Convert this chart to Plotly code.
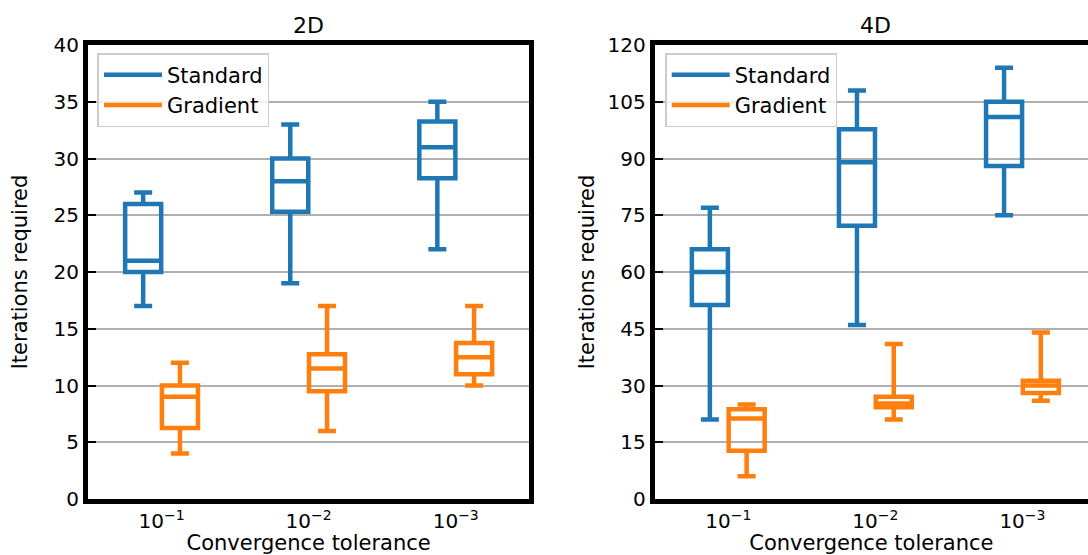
import plotly.graph_objects as go

# ---------------- data ----------------
categories = [1, 2, 3]
tick_labels = ["10<sup>\u22121</sup>", "10<sup>\u22122</sup>", "10<sup>\u22123</sup>"]

# 2D
std2_low = [17, 19, 22]
std2_q1 = [20, 25.3, 28.25]
std2_med = [21, 28, 31]
std2_q3 = [26, 30, 33.25]
std2_high = [27, 33, 35]

grad2_low = [4, 6, 10]
grad2_q1 = [6.25, 9.5, 11]
grad2_med = [9, 11.5, 12.5]
grad2_q3 = [10, 12.75, 13.75]
grad2_high = [12, 17, 17]

# 4D
std4_low = [21, 46, 75]
std4_q1 = [51.25, 72.25, 88]
std4_med = [60, 89, 101]
std4_q3 = [66, 97.75, 105]
std4_high = [77, 108, 114]

grad4_low = [6, 21, 26]
grad4_q1 = [12.75, 24.25, 28]
grad4_med = [21.25, 25.25, 30]
grad4_q3 = [23.75, 27, 31.25]
grad4_high = [25, 41, 44]

BLUE = "#1f77b4"
ORANGE = "#ff7f0e"
FONT = "DejaVu Sans"

OFFSET = 0.125
BOXW = 0.245

fig = go.Figure()


def add_box(xaxis, yaxis, pos, low, q1, med, q3, high, color):
    fig.add_trace(go.Box(
        x=pos, q1=q1, median=med, q3=q3, lowerfence=low, upperfence=high,
        orientation="v", width=BOXW, whiskerwidth=0.5, boxpoints=False,
        line=dict(color=color, width=4.5), fillcolor="rgba(0,0,0,0)",
        showlegend=False, xaxis=xaxis, yaxis=yaxis, hoverinfo="skip"))


pos_std = [c - OFFSET for c in categories]
pos_grad = [c + OFFSET for c in categories]

add_box("x", "y", pos_std, std2_low, std2_q1, std2_med, std2_q3, std2_high, BLUE)
add_box("x", "y", pos_grad, grad2_low, grad2_q1, grad2_med, grad2_q3, grad2_high, ORANGE)
add_box("x2", "y2", pos_std, std4_low, std4_q1, std4_med, std4_q3, std4_high, BLUE)
add_box("x2", "y2", pos_grad, grad4_low, grad4_q1, grad4_med, grad4_q3, grad4_high, ORANGE)

# legend entries (line samples)
for lg, xa, ya in [("legend", "x", "y"), ("legend2", "x2", "y2")]:
    for name, col in [("Standard", BLUE), ("Gradient", ORANGE)]:
        fig.add_trace(go.Scatter(x=[None], y=[None], mode="lines", name=name,
                                 line=dict(color=col, width=4.5), legend=lg,
                                 xaxis=xa, yaxis=ya, showlegend=True))

L, T, B = 87.5, 45, 56
W, H = 1088, 555
plotw = W - L
left_end = (529 - L) / plotw
right_start = (654.5 - L) / plotw
px_per_unit = (529 - L) / 3.0
right_range_end = 0.5 + (W - 654.5) / px_per_unit

axis_common = dict(showline=True, linecolor="black", linewidth=5,
                   tickfont=dict(family=FONT, size=20, color="black"))

legend_common = dict(xanchor="left", yanchor="top", y=1 - (53 - T) / (H - T - B),
                     bgcolor="rgba(255,255,255,0.8)", bordercolor="#cccccc", borderwidth=1.5,
                     font=dict(family=FONT, size=21), itemwidth=58)

fig.update_layout(
    width=W, height=H,
    margin=dict(l=L, r=0, t=T, b=B, autoexpand=False),
    paper_bgcolor="white", plot_bgcolor="white",
    boxmode="overlay",
    font=dict(family=FONT, color="black"),
    xaxis=dict(domain=[0, left_end], range=[0.5, 3.5], tickvals=categories,
               ticktext=tick_labels, mirror=True, ticks="", showgrid=False,
               zeroline=False,
               title=dict(text="Convergence tolerance", font=dict(family=FONT, size=21), standoff=6),
               **axis_common),
    yaxis=dict(domain=[0, 1], range=[0, 40], tickvals=list(range(0, 41, 5)),
               mirror=True, ticks="inside", ticklen=8, tickwidth=2, tickcolor="black",
               showgrid=True, gridcolor="#b0b0b0", gridwidth=2, zeroline=False,
               title=dict(text="Iterations required", font=dict(family=FONT, size=21), standoff=22),
               **axis_common),
    xaxis2=dict(domain=[right_start, 1], range=[0.5, right_range_end], tickvals=categories,
                ticktext=tick_labels, mirror=True, ticks="", showgrid=False,
                zeroline=False, anchor="y2",
                title=dict(text="Convergence tolerance", font=dict(family=FONT, size=21), standoff=6),
                **axis_common),
    yaxis2=dict(domain=[0, 1], range=[0, 120], tickvals=list(range(0, 121, 15)),
                mirror=False, ticks="inside", ticklen=8, tickwidth=2, tickcolor="black",
                showgrid=True, gridcolor="#b0b0b0", gridwidth=2, zeroline=False, anchor="x2",
                title=dict(text="Iterations required", font=dict(family=FONT, size=21), standoff=9),
                **axis_common),
    legend=dict(x=(97 - L) / plotw, **legend_common),
    legend2=dict(x=(665 - L) / plotw, **legend_common),
    annotations=[
        dict(text="2D", xref="paper", yref="paper", x=left_end / 2, y=1,
             xanchor="center", yanchor="bottom", yshift=5, showarrow=False,
             font=dict(family=FONT, size=22)),
        dict(text="4D", xref="paper", yref="paper",
             x=right_start + (px_per_unit * 3 / 2) / plotw, y=1,
             xanchor="center", yanchor="bottom", yshift=5, showarrow=False,
             font=dict(family=FONT, size=22)),
    ],
)

fig.write_html("out.html")
